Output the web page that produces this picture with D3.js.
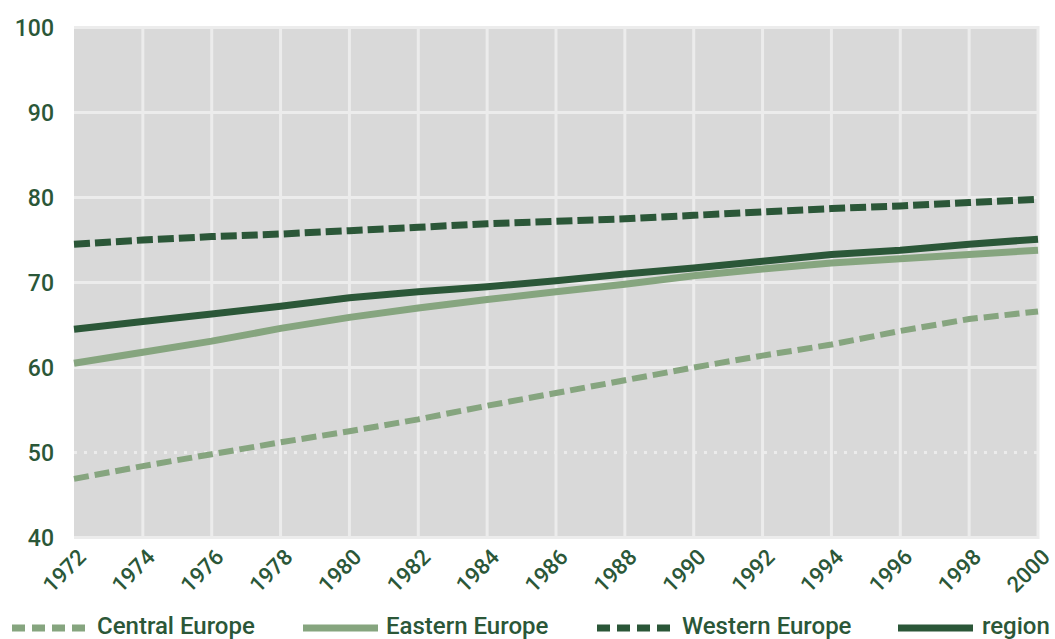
<!DOCTYPE html>
<html><head><meta charset="utf-8">
<script src="https://cdn.jsdelivr.net/npm/d3@7"></script>
<style>body{margin:0;background:#fff}svg{display:block}</style>
</head><body><svg id="c" width="1055" height="639"></svg>
<script>
const years = [1972,1974,1976,1978,1980,1982,1984,1986,1988,1990,1992,1994,1996,1998,2000];
const centralEurope = [46.9,48.4,49.8,51.2,52.5,53.9,55.5,57.0,58.5,60.0,61.4,62.7,64.3,65.7,66.6];
const easternEurope = [60.5,61.8,63.1,64.6,65.9,67.0,68.0,68.9,69.8,70.8,71.6,72.3,72.8,73.3,73.8];
const westernEurope = [74.5,75.0,75.4,75.7,76.1,76.5,76.9,77.2,77.5,77.9,78.3,78.7,79.0,79.4,79.8];
const region = [64.5,65.4,66.3,67.2,68.2,68.9,69.5,70.2,71.0,71.7,72.5,73.3,73.8,74.5,75.1];
const yTicks = [40,50,60,70,80,90,100];
const xTickLabels = years.map(String);
const legendLabels = ["Central Europe","Eastern Europe","Western Europe","region"];

const DARK = "#2b5738", LIGHT = "#86a57f", BG = "#d9d9d9", GRID = "#ececec";
const svg = d3.select("#c");
const x = d3.scaleLinear().domain([1972,2000]).range([74,1038]);
const y = d3.scaleLinear().domain([40,100]).range([537.5,27.5]);

svg.append("rect").attr("x",74).attr("y",26).attr("width",965).attr("height",513).attr("fill",BG);

// gridlines
const g = svg.append("g");
g.selectAll(".hg").data(yTicks).join("line")
  .attr("x1",74).attr("x2",1039).attr("y1",d=>y(d)).attr("y2",d=>y(d))
  .attr("stroke",GRID).attr("stroke-width",3)
  .attr("stroke-dasharray",d=>d===50?"3,7":null);
g.selectAll(".vg").data(years.slice(1)).join("line")
  .attr("x1",d=>x(d)).attr("x2",d=>x(d)).attr("y1",26).attr("y2",539)
  .attr("stroke",GRID).attr("stroke-width",3);

const line = d3.line().x((d,i)=>x(years[i])).y(d=>y(d));
const series = [
  {v:centralEurope, c:LIGHT, w:6, dash:"15,6"},
  {v:westernEurope, c:DARK, w:7, dash:"16,5"},
  {v:easternEurope, c:LIGHT, w:7, dash:null},
  {v:region, c:DARK, w:7, dash:null}
];
svg.selectAll(".ln").data(series).join("path")
  .attr("d",d=>line(d.v)).attr("fill","none")
  .attr("stroke",d=>d.c).attr("stroke-width",d=>d.w)
  .attr("stroke-dasharray",d=>d.dash);

const font = "Roboto, 'Open Sans', sans-serif";
// y labels
svg.selectAll(".yl").data(yTicks).join("text")
  .attr("x",54).attr("y",d=>y(d)).attr("dy","0.36em")
  .attr("text-anchor","end").attr("font-family",font).attr("font-size",23).attr("font-weight",500)
  .attr("fill",DARK).text(d=>d);

// x labels
svg.selectAll(".xl").data(years).join("text")
  .attr("transform",d=>`translate(${x(d)+8},${553}) rotate(-45)`)
  .attr("text-anchor","end").attr("dy","0.35em")
  .attr("font-family",font).attr("font-size",22).attr("font-weight",500)
  .attr("fill",DARK).text((d,i)=>xTickLabels[i]);

// legend
const leg = [
  {x:12, c:LIGHT, dash:"13,7", tx:97},
  {x:303, c:LIGHT, dash:null, tx:386},
  {x:597, c:DARK, dash:"13,7", tx:682},
  {x:898, c:DARK, dash:null, tx:982}
];
const lg = svg.selectAll(".lg").data(leg).join("g");
lg.append("line").attr("x1",d=>d.x).attr("x2",d=>d.x+75).attr("y1",628).attr("y2",628)
  .attr("stroke",d=>d.c).attr("stroke-width",7).attr("stroke-dasharray",d=>d.dash);
lg.append("text").attr("x",d=>d.tx).attr("y",634)
  .attr("font-family",font).attr("font-size",24).attr("font-weight",500)
  .attr("fill",DARK).text((d,i)=>legendLabels[i]);
</script></body></html>
